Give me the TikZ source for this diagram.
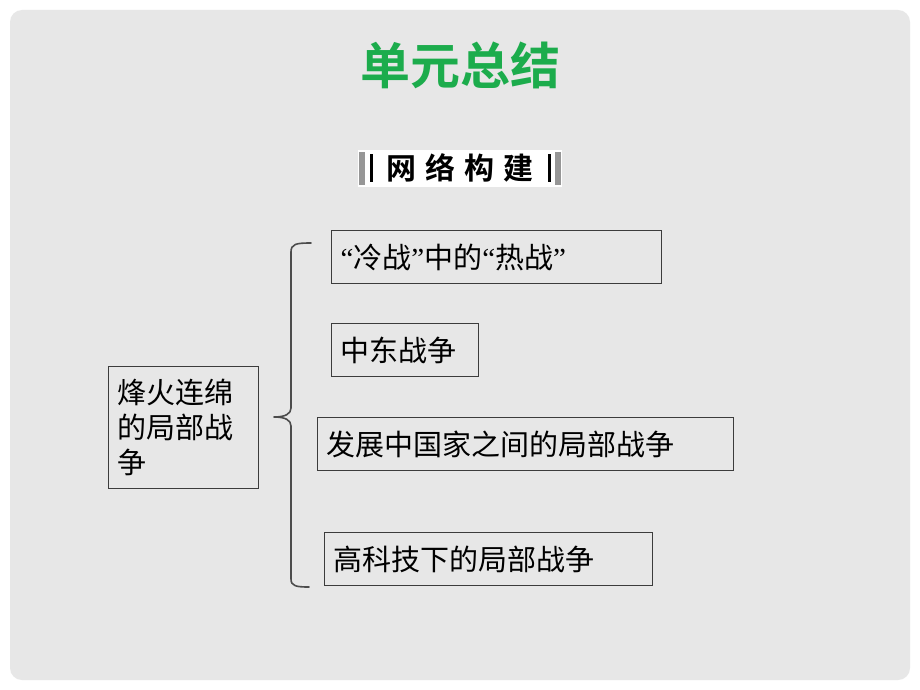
\documentclass[tikz,border=0pt]{standalone}
\usepackage{fontspec}
\newfontfamily\cjk{Noto Sans CJK SC}
\newfontfamily\cjkb{Noto Sans CJK SC Bold}
\newfontfamily\qf{Liberation Serif}
\newcommand{\myLq}{{\qf “}}
\newcommand{\myRq}{{\qf ”}}
\definecolor{bgc}{RGB}{231,231,231}
\definecolor{titlegreen}{RGB}{28,172,76}
\definecolor{boxline}{RGB}{60,60,60}
\definecolor{bargray}{RGB}{150,150,150}
\tikzset{
  box/.style={draw=boxline, line width=1.1pt, anchor=north west, inner xsep=9pt, inner ysep=0pt,
    align=left, font=\cjk\fontsize{29}{36}\selectfont, text=black},
  bar/.style={fill, inner sep=0pt, anchor=north west},
  bracel/.style={draw=black!70, line width=1.6pt, line join=round, line cap=round}
}
\begin{document}
\begin{tikzpicture}[x=1pt,y=-1pt]
\useasboundingbox (0,0) rectangle (920,690);
\fill[white] (0,0) rectangle (920,690);
\fill[bgc, rounded corners=12pt] (10,10) rectangle (910,680);
% title
\node[font=\cjkb\fontsize{50}{54}\selectfont, text=titlegreen, inner sep=0pt] (title) at (460,65) {单元总结};
% header
\node[fill=white, minimum width=204, minimum height=37, inner sep=0pt, anchor=north west] (hdr) at (358,150) {};
\node[bar, fill=bargray, minimum width=6, minimum height=33] (gl) at (359,152) {};
\node[bar, fill=bargray, minimum width=6, minimum height=33] (gr) at (555,152) {};
\node[bar, fill=black, minimum width=3, minimum height=28] (kl) at (370,154) {};
\node[bar, fill=black, minimum width=3, minimum height=28] (kr) at (548,154) {};
\node[font=\cjkb\fontsize{30}{32}\selectfont, inner sep=0pt] (hdrtext) at (460,168) {网\hspace{9pt}络\hspace{9pt}构\hspace{9pt}建};
% left box
\node[box, minimum width=150, minimum height=122, text width=132] (root) at (108,366) {烽火连绵\\[-1pt]的局部战\\[-1pt]争};
% right boxes
\node[box, minimum width=330, minimum height=53, text width=312] (b1) at (331,230) {\myLq 冷战\myRq 中的\myLq 热战\myRq};
\node[box, minimum width=147, minimum height=53, text width=129] (b2) at (331,323) {中东战争};
\node[box, minimum width=416, minimum height=53, text width=398] (b3) at (317,417) {发展中国家之间的局部战争};
\node[box, minimum width=328, minimum height=53, text width=310] (b4) at (324,532) {高科技下的局部战争};
% brace
\coordinate (btop) at (311,243);
\coordinate (btip) at (274,417);
\coordinate (bbot) at (309,587);
\draw[bracel] (btop) .. controls (296,243) and (291,244) .. (291,252) -- (291,408)
  .. controls (291,414) and (285,417) .. (btip)
  .. controls (285,417) and (291,420) .. (291,426) -- (291,579)
  .. controls (291,586) and (296,587) .. (bbot);
\end{tikzpicture}
\end{document}
